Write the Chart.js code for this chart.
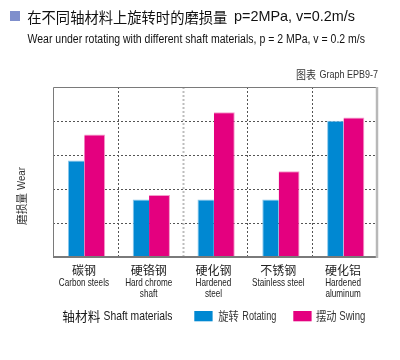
<!DOCTYPE html>
<html>
<head>
<meta charset="utf-8">
<script src="https://cdn.jsdelivr.net/npm/chart.js@4.4.1/dist/chart.umd.min.js"></script>
<style>
html,body{margin:0;padding:0;background:#fff;}
#wrap{width:400px;height:360px;position:relative;}
</style>
</head>
<body>
<div id="wrap"><canvas id="c" width="400" height="360"></canvas></div>
<script>
const categoriesZh = ["碳钢", "硬铬钢", "硬化钢", "不锈钢", "硬化铝"];
const categoriesEn = [["Carbon steels"], ["Hard chrome", "shaft"], ["Hardened", "steel"], ["Stainless steel"], ["Hardened", "aluminum"]];
const rotating = [2.84, 1.69, 1.69, 1.69, 4.01];
const swing = [3.6, 1.82, 4.26, 2.52, 4.1];
const seriesZh = ["旋转", "摆动"];
const seriesEn = ["Rotating", "Swing"];
const yMax = 5;

const CJK = "'Noto Sans CJK SC','Noto Sans CJK JP',sans-serif";
const LAT = "'Liberation Sans',Arial,sans-serif";
const NARROW_K = 0.8;

function fitText(ctx, text, font, x, y, w) {
  ctx.save();
  ctx.font = font;
  ctx.textAlign = "left";
  ctx.textBaseline = "middle";
  const m = ctx.measureText(text).width;
  const k = w / m;
  ctx.translate(x, y);
  ctx.scale(k, 1);
  ctx.fillText(text, 0, 0);
  ctx.restore();
}
function narrowWidth(ctx, text, size) {
  ctx.save(); ctx.font = size + "px " + LAT; const m = ctx.measureText(text).width; ctx.restore();
  return m * NARROW_K;
}
function narrowText(ctx, text, size, x, y, align) {
  const w = narrowWidth(ctx, text, size);
  let sx = x;
  if (align === "center") sx = x - w / 2;
  if (align === "right") sx = x - w;
  fitText(ctx, text, size + "px " + LAT, sx, y, w);
  return w;
}

const decor = {
  id: "decor",
  beforeDatasetsDraw(chart) {
    const ctx = chart.ctx;
    const a = chart.chartArea;
    const xs = chart.scales.x, ys = chart.scales.y;
    ctx.save();
    ctx.lineWidth = 1;
    ctx.setLineDash([2, 2]);
    ctx.strokeStyle = "#555";
    for (let v = 1; v < yMax; v++) {
      const y = Math.round(ys.getPixelForValue(v)) + 0.5;
      ctx.beginPath(); ctx.moveTo(a.left, y); ctx.lineTo(a.right, y); ctx.stroke();
    }
    for (let i = 0; i < categoriesZh.length - 1; i++) {
      const x = Math.round((xs.getPixelForValue(i) + xs.getPixelForValue(i + 1)) / 2) + 0.5;
      if (i === 1) { ctx.strokeStyle = "#bdbdbd"; ctx.lineWidth = 2; } else { ctx.strokeStyle = "#555"; ctx.lineWidth = 1; }
      ctx.beginPath(); ctx.moveTo(x, a.top); ctx.lineTo(x, a.bottom); ctx.stroke();
    }
    ctx.restore();
  },
  afterDatasetsDraw(chart) {
    const ctx = chart.ctx;
    const a = chart.chartArea;
    ctx.save();
    ctx.setLineDash([]);
    ctx.strokeStyle = "#7a7a7a"; ctx.lineWidth = 1;
    ctx.beginPath(); ctx.moveTo(a.left + 0.5, a.bottom); ctx.lineTo(a.left + 0.5, a.top + 0.5); ctx.lineTo(a.right, a.top + 0.5); ctx.stroke();
    ctx.lineWidth = 2;
    ctx.beginPath(); ctx.moveTo(a.left, a.bottom); ctx.lineTo(a.right, a.bottom); ctx.stroke();
    ctx.strokeStyle = "#b8b8b8"; ctx.lineWidth = 2.5;
    ctx.beginPath(); ctx.moveTo(a.right, a.top); ctx.lineTo(a.right, a.bottom + 1); ctx.stroke();
    ctx.restore();
  },
  afterDraw(chart) {
    const ctx = chart.ctx;
    const xs = chart.scales.x;
    ctx.save();
    ctx.fillStyle = "#7f8fcc";
    ctx.fillRect(10, 11, 10, 10);
    ctx.fillStyle = "#111";
    fitText(ctx, "在不同轴材料上旋转时的磨损量", "15px " + CJK, 27.3, 17, 200);
    fitText(ctx, "p=2MPa, v=0.2m/s", "15px " + LAT, 234, 17, 121);
    fitText(ctx, "Wear under rotating with different shaft materials, p = 2 MPa, v = 0.2 m/s", "12px " + LAT, 27.5, 39.5, 337.5);
    ctx.fillStyle = "#333";
    fitText(ctx, "图表", "11px " + CJK, 296, 74.5, 20);
    fitText(ctx, "Graph EPB9-7", "11.5px " + LAT, 319.5, 74.5, 58.5);
    ctx.save();
    ctx.translate(22, 196);
    ctx.rotate(-Math.PI / 2);
    fitText(ctx, "磨损量", "11.5px " + CJK, -29, 0, 32);
    fitText(ctx, "Wear", "11.5px " + LAT, 6, 0, 23);
    ctx.restore();
    ctx.fillStyle = "#222";
    for (let i = 0; i < categoriesZh.length; i++) {
      const cx = xs.getPixelForValue(i) - 1.5;
      ctx.save();
      ctx.font = "12px " + CJK;
      ctx.textAlign = "center";
      ctx.textBaseline = "middle";
      ctx.fillText(categoriesZh[i], cx, 270.5);
      ctx.restore();
      categoriesEn[i].forEach((t, j) => narrowText(ctx, t, 10.2, cx, 283 + j * 11.3, "center"));
    }
    ctx.fillStyle = "#1a1a1a";
    fitText(ctx, "轴材料", "13px " + CJK, 62.3, 316.5, 38);
    fitText(ctx, "Shaft materials", "13.5px " + LAT, 103.5, 316.5, 69);
    const colors = ["#0088d2", "#e4007f"];
    const boxX = [194.3, 293.3];
    const zhX = [218.3, 316];
    const enX = [242.3, 339.3];
    const enW = [34, 26];
    for (let k = 0; k < 2; k++) {
      ctx.fillStyle = colors[k];
      ctx.fillRect(boxX[k], 311, 18.3, 10.3);
      ctx.fillStyle = "#333";
      fitText(ctx, seriesZh[k], "12px " + CJK, zhX[k], 316.5, 20.5);
      fitText(ctx, seriesEn[k], "12px " + LAT, enX[k], 316.5, enW[k]);
    }
    ctx.restore();
  }
};

new Chart(document.getElementById("c"), {
  type: "bar",
  data: {
    labels: categoriesZh,
    datasets: [
      { label: seriesZh[0] + " " + seriesEn[0], data: rotating, backgroundColor: "#0088d2", borderColor: "#8cc8ec",
        borderWidth: {top: 1, left: 1, right: 0, bottom: 0}, borderSkipped: "bottom",
        barPercentage: 0.88, categoryPercentage: 0.575 },
      { label: seriesZh[1] + " " + seriesEn[1], data: swing, backgroundColor: "#e4007f", borderColor: "#f49ccb",
        borderWidth: {top: 1, left: 0, right: 1, bottom: 0}, borderSkipped: "bottom",
        barPercentage: 1.12, categoryPercentage: 0.575 }
    ]
  },
  options: {
    responsive: false,
    animation: false,
    devicePixelRatio: 1,
    layout: { padding: { left: 53, right: 23, top: 87, bottom: 103 } },
    plugins: { legend: { display: false }, tooltip: { enabled: false }, title: { display: false } },
    scales: {
      x: { display: true, offset: true, grid: { display: false, drawTicks: false }, border: { display: false },
           ticks: { display: false } },
      y: { display: true, min: 0, max: yMax, grid: { display: false, drawTicks: false }, border: { display: false },
           ticks: { display: false, stepSize: 1 } }
    }
  },
  plugins: [decor]
});
</script>
</body>
</html>
